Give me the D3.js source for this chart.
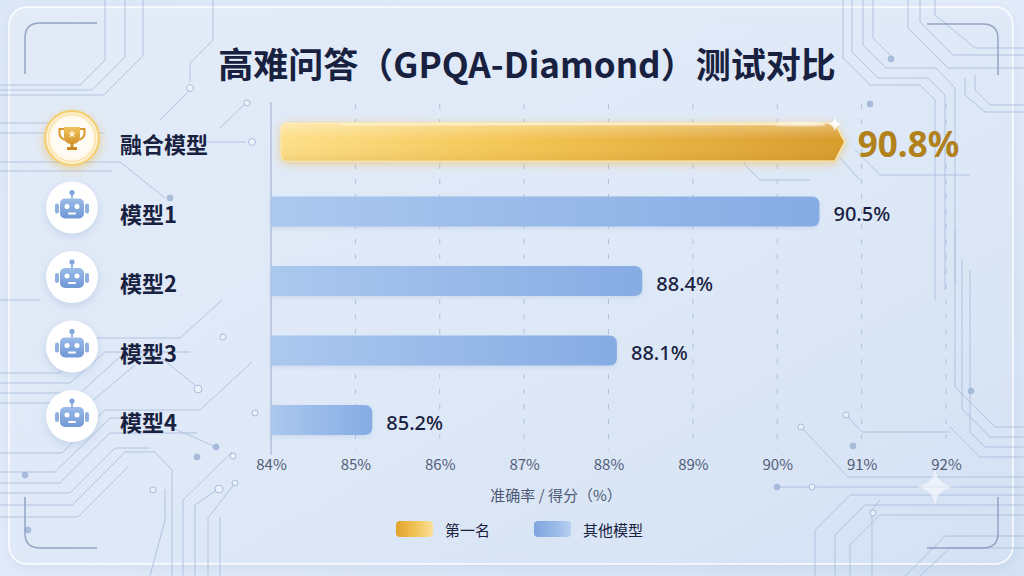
<!DOCTYPE html>
<html><head><meta charset="utf-8">
<script src="https://cdn.jsdelivr.net/npm/d3@7/dist/d3.min.js"></script>
<style>html,body{margin:0;padding:0;background:#dbe6f5;}svg{display:block;}</style>
</head><body>
<svg id="chart" width="1024" height="576"></svg>
<script>
// ---- data ----
const title = "高难问答（GPQA-Diamond）测试对比";
const categories = ["融合模型", "模型1", "模型2", "模型3", "模型4"];
const scores = [90.8, 90.5, 88.4, 88.1, 85.2];
const tickValues = [84, 85, 86, 87, 88, 89, 90, 91, 92];
const xDomain = [84, 92];
const axisTitle = "准确率 / 得分（%）";
const legendLabels = ["第一名", "其他模型"];

// ---- decorative circuit traces (background only) ----
const traces = [
  "M0,85 H80 L105,60 V0", "M0,90 H92 L125,57 V0", "M0,95 H104 L143,56 V0",
  "M213,0 V40 L190,63 V82", "M160,120 L190,90",
  "M0,123 H95", "M0,133 H105", "M205,142 H246", "M220,128 L245,104",
  "M0,162 H120 L165,198", "M0,171 H112",
  "M0,300 H40", "M0,373 H60 L95,338 H180 L222,300",
  "M0,383 H70 L105,352 H190", "M0,393 H80 L120,357 H160 L196,386",
  "M0,403 H90 L135,365",
  "M0,453 H62 L105,410 H200 L252,362", "M0,472 H55 L110,418 H150 L216,447",
  "M0,483 H60 L110,433 H197", "M0,493 H70 L115,448 H150",
  "M0,505 H72 L125,452 H155 L172,470 V576", "M0,517 H78 L128,467",
  "M183,576 V500 L232,452", "M195,576 V505 L218,489", "M208,576 V518 L235,483",
  "M220,576 V517", "M150,576 L165,520 V489",
  "M843,0 V58 L870,85 H920 L935,100 V300", "M852,0 V52 L878,78 H928 L945,95 V290",
  "M863,0 V45 L886,68 H936 L955,88 V285", "M873,0 V38 L893,58",
  "M920,0 V22 L953,55 H1024", "M908,0 V28 L948,68 H1024", "M935,0 V15 L975,48 H1024",
  "M975,75 V90 L990,105 H1024", "M965,78 V95 L985,112 H1024",
  "M810,180 H760 L745,165 V125", "M855,150 L880,175 H970", "M840,158 L860,180",
  "M1024,427 H995 L955,387 V230", "M1024,437 H990 L962,409 V260",
  "M1024,447 H985 L970,432 V270", "M1024,457 H980 L950,427",
  "M846,415 L862,432 H950", "M801,427 L848,477 H1024", "M777,487 H1024",
  "M815,576 V530 L850,495 H1024", "M835,576 V535 L865,505 H1024",
  "M850,576 V545 L880,515 H1024", "M905,576 L945,536 H1024", "M920,576 L950,548 H1024",
  "M872,514 V576", "M870,512 L880,500"
];
const nodes = [[190,88,3.5,0],[247,103,3,0],[252,142,3.5,0],[170,198,3,1],[223,337,3,0],[198,389,4,0],
  [255,413,3,0],[216,447,3,1],[197,457,3,1],[233,456,3,0],[219,489,4,0],[235,483,3,0],[153,490,3,0],
  [891,59,3,1],[870,104,3,1],[971,391,3,1],[846,415,3,0],[801,427,3,0],[777,487,3,1],[873,513,3,0],
  [25,475,3,1],[28,530,3,1],[853,446,3,1],[812,487,3,0]];

const svg = d3.select("#chart");
const defs = svg.append("defs");

function lin(id, stops, x2 = "100%", y2 = "0%") {
  const g = defs.append("linearGradient").attr("id", id).attr("x1", "0%").attr("y1", "0%").attr("x2", x2).attr("y2", y2);
  stops.forEach(s => g.append("stop").attr("offset", s[0]).attr("stop-color", s[1]).attr("stop-opacity", s[2] == null ? 1 : s[2]));
}
lin("bgGrad", [["0%", "#dde8f7"], ["50%", "#e2ebf9"], ["100%", "#d3e1f4"]], "100%", "100%");
lin("panelGrad", [["0%", "#ecf2fb"], ["55%", "#e4edfa"], ["100%", "#dbe6f7"]], "100%", "100%");
lin("goldGrad", [["0%", "#fddf88"], ["40%", "#f4c654"], ["80%", "#e2a938"], ["100%", "#d89a2a"]]);
lin("goldGradV", [["0%", "#ffffff", 0.35], ["45%", "#ffffff", 0], ["100%", "#a06a10", 0.12]], "0%", "100%");
lin("blueGrad", [["0%", "#abc8ee"], ["100%", "#86ace4"]]);
lin("trophyGrad", [["0%", "#f3c25a"], ["100%", "#c8861f"]], "0%", "100%");
lin("robotGrad", [["0%", "#9bbbe8"], ["100%", "#6f98d6"]], "0%", "100%");
lin("legGold", [["0%", "#e2a22c"], ["55%", "#f2c458"], ["100%", "#fbe09a"]]);
lin("legBlue", [["0%", "#7ea5de"], ["60%", "#9bbbe8"], ["100%", "#b9d0f1"]]);
const rg = defs.append("radialGradient").attr("id", "goldCircle");
rg.append("stop").attr("offset", "0%").attr("stop-color", "#ffffff");
rg.append("stop").attr("offset", "75%").attr("stop-color", "#fffaf0");
rg.append("stop").attr("offset", "100%").attr("stop-color", "#fdebc0");

let f = defs.append("filter").attr("id", "panelShadow").attr("x", "-5%").attr("y", "-5%").attr("width", "110%").attr("height", "115%");
f.append("feDropShadow").attr("dx", 0).attr("dy", 4).attr("stdDeviation", 6).attr("flood-color", "#9db4d6").attr("flood-opacity", 0.35);
f = defs.append("filter").attr("id", "goldGlow").attr("x", "-10%").attr("y", "-60%").attr("width", "120%").attr("height", "220%");
f.append("feDropShadow").attr("dx", 0).attr("dy", 2).attr("stdDeviation", 4).attr("flood-color", "#f2b73c").attr("flood-opacity", 0.55);
f = defs.append("filter").attr("id", "iconShadow").attr("x", "-50%").attr("y", "-50%").attr("width", "200%").attr("height", "200%");
f.append("feDropShadow").attr("dx", 0).attr("dy", 3).attr("stdDeviation", 4).attr("flood-color", "#8fa9d0").attr("flood-opacity", 0.35);
f = defs.append("filter").attr("id", "goldIconGlow").attr("x", "-50%").attr("y", "-50%").attr("width", "200%").attr("height", "200%");
f.append("feDropShadow").attr("dx", 0).attr("dy", 3).attr("stdDeviation", 5).attr("flood-color", "#f0b53a").attr("flood-opacity", 0.5);
f = defs.append("filter").attr("id", "blur2");
f.append("feGaussianBlur").attr("stdDeviation", 2);
f = defs.append("filter").attr("id", "barShadow").attr("x", "-5%").attr("y", "-50%").attr("width", "110%").attr("height", "200%");
f.append("feDropShadow").attr("dx", 0).attr("dy", 2).attr("stdDeviation", 2).attr("flood-color", "#7f9fcf").attr("flood-opacity", 0.2);

// background
svg.append("rect").attr("width", 1024).attr("height", 576).attr("fill", "url(#bgGrad)");
svg.append("rect").attr("x", 9).attr("y", 7).attr("width", 1004).attr("height", 557).attr("rx", 18)
  .attr("fill", "url(#panelGrad)").attr("fill-opacity", 0.6).attr("stroke", "#ffffff").attr("stroke-opacity", 0.9)
  .attr("stroke-width", 1.5).attr("filter", "url(#panelShadow)");
const deco = svg.append("g").attr("fill", "none").attr("stroke", "#a2b7d8").attr("stroke-width", 1).attr("opacity", 0.75);
traces.forEach(d => deco.append("path").attr("d", d));
const deco2 = svg.append("g").attr("opacity", 0.85);
nodes.forEach(n => deco2.append("circle").attr("cx", n[0]).attr("cy", n[1]).attr("r", n[2])
  .attr("fill", n[3] ? "#9fb4d6" : "#eef3fb").attr("stroke", "#9fb4d6").attr("stroke-width", 1));
// corner brackets
const br = svg.append("g").attr("fill", "none").attr("stroke", "#7f93b5").attr("stroke-width", 1.5).attr("opacity", 0.8);
br.append("path").attr("d", "M25,74 V38 Q25,23 40,23 H97");
br.append("path").attr("d", "M927,24 H983 Q998,24 998,39 V75");
br.append("path").attr("d", "M25,497 V533 Q25,548 40,548 H97");
br.append("path").attr("d", "M998,497 V533 Q998,548 983,548 H927");
// sparkle
function sparkle(x, y, s, op) {
  svg.append("path").attr("d", `M${x},${y - s} Q${x + s * 0.15},${y - s * 0.15} ${x + s},${y} Q${x + s * 0.15},${y + s * 0.15} ${x},${y + s} Q${x - s * 0.15},${y + s * 0.15} ${x - s},${y} Q${x - s * 0.15},${y - s * 0.15} ${x},${y - s}Z`)
    .attr("fill", "#ffffff").attr("opacity", op);
}
sparkle(935, 487, 18, 0.55);

// title
svg.append("text").attr("x", 527).attr("y", 62).attr("text-anchor", "middle").attr("dominant-baseline", "central")
  .attr("font-family", "'Noto Sans CJK SC', 'Noto Sans', sans-serif").attr("font-weight", 700).attr("font-size", 35)
  .attr("fill", "#18213f").text(title);

// scales
const x = d3.scaleLinear().domain(xDomain).range([271, 946]);
const y = d3.scalePoint().domain(categories).range([142, 420]);
const font = "'Noto Sans CJK SC', 'Noto Sans', sans-serif";

// grid
svg.append("g").selectAll("line").data(tickValues.slice(1)).join("line")
  .attr("x1", d => x(d)).attr("x2", d => x(d)).attr("y1", 104).attr("y2", 450)
  .attr("stroke", "#b0c1da").attr("stroke-width", 1).attr("stroke-dasharray", "5,10");
svg.append("line").attr("x1", x(xDomain[0])).attr("x2", x(xDomain[0])).attr("y1", 102).attr("y2", 455)
  .attr("stroke", "#b2c1d8").attr("stroke-width", 1.5);

// axis
const axis = svg.append("g").attr("transform", "translate(0,453)")
  .call(d3.axisBottom(x).tickValues(tickValues).tickFormat(d => d + "%").tickSize(0).tickPadding(6));
axis.select(".domain").remove();
axis.selectAll("text").attr("font-family", font).attr("font-size", 15).attr("fill", "#525d78");
svg.append("text").attr("x", 556).attr("y", 494).attr("text-anchor", "middle").attr("dominant-baseline", "central")
  .attr("font-family", font).attr("font-size", 15).attr("fill", "#4d5873").text(axisTitle);

// bars
const rows = categories.map((c, i) => ({ c, v: scores[i], i }));
const barG = svg.append("g");
rows.forEach(d => {
  const cy = y(d.c);
  if (d.i === 0) {
    const h = 38, x0 = x(xDomain[0]) + 10, x1 = x(d.v), r = 7, t = 10;
    const p = `M${x0 + r},${cy - h / 2} H${x1 - t} L${x1},${cy} L${x1 - t},${cy + h / 2} H${x0 + r} Q${x0},${cy + h / 2} ${x0},${cy + h / 2 - r} V${cy - h / 2 + r} Q${x0},${cy - h / 2} ${x0 + r},${cy - h / 2} Z`;
    barG.append("path").attr("d", p).attr("fill", "url(#goldGrad)").attr("stroke", "#fde7a8").attr("stroke-width", 1.5).attr("filter", "url(#goldGlow)");
    barG.append("path").attr("d", p).attr("fill", "url(#goldGradV)");
    barG.append("line").attr("x1", x0 + 60).attr("x2", x1 - 20).attr("y1", cy - h / 2 + 1.5).attr("y2", cy - h / 2 + 1.5)
      .attr("stroke", "#fff6d8").attr("stroke-width", 1.5).attr("opacity", 0.8);
    barG.append("ellipse").attr("cx", x1 - 45).attr("cy", cy - h / 2 + 1).attr("rx", 25).attr("ry", 2).attr("fill", "#ffffff").attr("opacity", 0.7).attr("filter", "url(#blur2)");
    sparkle(x1 - t, cy - h / 2 + 1, 7, 0.9);
    barG.append("text").attr("x", x1 + 13).attr("y", cy + 1).attr("dominant-baseline", "central")
      .attr("font-family", "'Noto Sans', 'Open Sans', sans-serif").attr("font-weight", 700).attr("font-size", 35)
      .attr("fill", "#b1811c").text(d.v.toFixed(1) + "%");
  } else {
    const h = 30, x0 = x(xDomain[0]), x1 = x(d.v), r = 8;
    const p = `M${x0},${cy - h / 2} H${x1 - r} Q${x1},${cy - h / 2} ${x1},${cy - h / 2 + r} V${cy + h / 2 - r} Q${x1},${cy + h / 2} ${x1 - r},${cy + h / 2} H${x0} Z`;
    barG.append("path").attr("d", p).attr("fill", "url(#blueGrad)").attr("filter", "url(#barShadow)");
    barG.append("text").attr("x", x1 + 14).attr("y", cy + 2).attr("dominant-baseline", "central")
      .attr("font-family", "'Noto Sans', 'Open Sans', sans-serif").attr("font-weight", 500).attr("font-size", 20)
      .attr("fill", "#18213f").text(d.v.toFixed(1) + "%");
  }
});

// category labels and icons
const lab = svg.append("g");
rows.forEach(d => {
  const cy = y(d.c);
  lab.append("text").attr("x", 120).attr("y", cy + 1).attr("dominant-baseline", "central")
    .attr("font-family", font).attr("font-weight", 700).attr("font-size", 22).attr("fill", "#18213f").text(d.c);
  const icy = cy - 4, icx = 72;
  const g = lab.append("g").attr("transform", `translate(${icx},${icy})`);
  if (d.i === 0) {
    g.append("circle").attr("r", 27).attr("fill", "url(#goldCircle)").attr("stroke", "#f3cf72").attr("stroke-width", 2).attr("filter", "url(#goldIconGlow)");
    g.append("circle").attr("r", 23.5).attr("fill", "none").attr("stroke", "#f6dc98").attr("stroke-width", 1);
    // trophy
    g.append("path").attr("d", "M-8,-11 H8 V-2 Q8,5 1.5,6 V9 H5 V12 H-5 V9 H-1.5 V6 Q-8,5 -8,-2 Z").attr("fill", "url(#trophyGrad)");
    g.append("path").attr("d", "M-8,-9 H-12.5 V-5 Q-12.5,1 -6,2").attr("fill", "none").attr("stroke", "#d9992c").attr("stroke-width", 2);
    g.append("path").attr("d", "M8,-9 H12.5 V-5 Q12.5,1 6,2").attr("fill", "none").attr("stroke", "#d9992c").attr("stroke-width", 2);
    g.append("path").attr("d", d3.symbol(d3.symbolStar, 22)()).attr("transform", "translate(0,-4)").attr("fill", "#fff4d6");
  } else {
    g.append("circle").attr("r", 26).attr("fill", "#ffffff").attr("filter", "url(#iconShadow)");
    g.append("line").attr("x1", 0).attr("x2", 0).attr("y1", -9).attr("y2", -14).attr("stroke", "#7fa5dc").attr("stroke-width", 1.6);
    g.append("circle").attr("cy", -15).attr("r", 2.6).attr("fill", "#7fa5dc");
    g.append("rect").attr("x", -17).attr("y", -4).attr("width", 4).attr("height", 10).attr("rx", 2).attr("fill", "#8fb0e0");
    g.append("rect").attr("x", 13).attr("y", -4).attr("width", 4).attr("height", 10).attr("rx", 2).attr("fill", "#8fb0e0");
    g.append("rect").attr("x", -12).attr("y", -9).attr("width", 24).attr("height", 20).attr("rx", 5).attr("fill", "url(#robotGrad)");
    g.append("circle").attr("cx", -5).attr("cy", -1).attr("r", 2.5).attr("fill", "#ffffff");
    g.append("circle").attr("cx", 5).attr("cy", -1).attr("r", 2.5).attr("fill", "#ffffff");
    g.append("rect").attr("x", -4).attr("y", 5).attr("width", 8).attr("height", 2).attr("rx", 1).attr("fill", "#ffffff");
  }
});

// legend
const leg = svg.append("g").attr("transform", "translate(396,529)");
const legFills = ["url(#legGold)", "url(#legBlue)"];
legendLabels.forEach((t, i) => {
  const gx = i * 138;
  leg.append("rect").attr("x", gx).attr("y", -8).attr("width", 37).attr("height", 16).attr("rx", 4).attr("fill", legFills[i]);
  leg.append("text").attr("x", gx + 49).attr("y", 0).attr("dominant-baseline", "central")
    .attr("font-family", font).attr("font-size", 15).attr("fill", "#18213f").text(t);
});
</script>
</body></html>
